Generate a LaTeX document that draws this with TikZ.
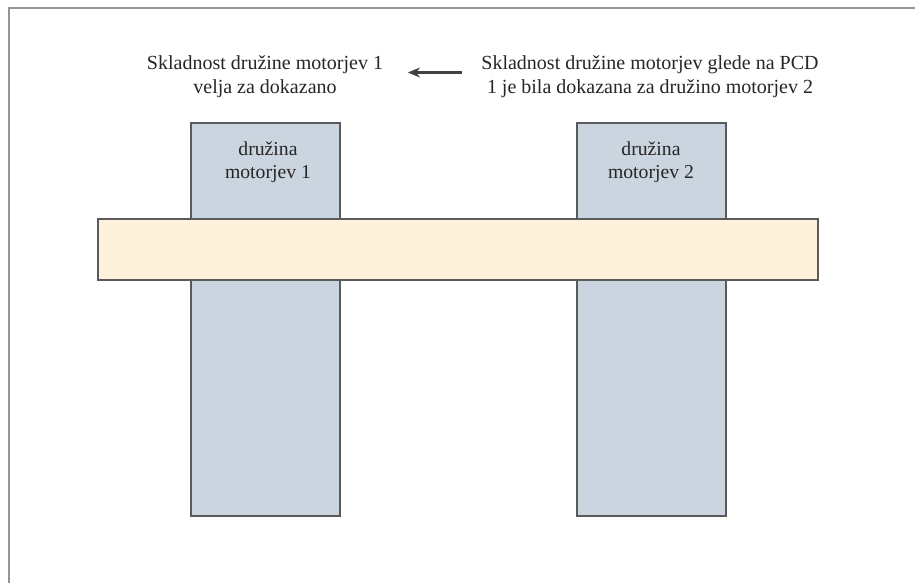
\documentclass[tikz,border=0pt]{standalone}
\usepackage{fontspec}
\setmainfont{Liberation Serif}
\usetikzlibrary{arrows.meta}
\definecolor{boxblue}{HTML}{CBD5DF}
\definecolor{barcream}{HTML}{FFF2DC}
\definecolor{edgegray}{HTML}{5A5A5A}
\definecolor{framegray}{HTML}{9A9494}
\tikzset{
  tallbox/.style={draw=edgegray, line width=1.6pt, fill=boxblue},
  barbox/.style={draw=edgegray, line width=1.6pt, fill=barcream},
  txt/.style={font=\fontsize{20}{24}\selectfont, align=center, text=black!85, inner sep=0pt},
  lbl/.style={font=\fontsize{19.7}{23}\selectfont, align=center, text=black!85, inner sep=0pt},
}
\begin{document}
\begin{tikzpicture}[x=1pt,y=-1pt]
\useasboundingbox (0,0) rectangle (915,583);
\fill[white] (0,0) rectangle (915,583);
% frame
\draw[framegray, line width=2pt] (9,590) -- (9,8.5) -- (920,8.5);
% tall boxes
\node[tallbox, minimum width=149pt, minimum height=393pt, inner sep=0pt] (b1) at (265.5,319.5) {};
\node[tallbox, minimum width=149pt, minimum height=393pt, inner sep=0pt] (b2) at (651.5,319.5) {};
% bar
\node[barbox, minimum width=720pt, minimum height=61pt, inner sep=0pt] (bar) at (458,249.5) {};
% labels
\node[lbl, anchor=north] (l1) at (268,142) {družina\\motorjev 1};
\node[lbl, anchor=north] (l2) at (651,142) {družina\\motorjev 2};
% texts
\node[txt] (t1) at (265,77) {Skladnost družine motorjev 1\\velja za dokazano};
\node[txt] (t2) at (650,77) {Skladnost družine motorjev glede na PCD\\1 je bila dokazana za družino motorjev 2};
\coordinate (a1) at (462,72.5);
\coordinate (a2) at (408,72.5);
\draw[-{Stealth[length=12pt,width=10pt]}, line width=2.2pt, black!75] (a1) -- (a2);
\end{tikzpicture}
\end{document}
